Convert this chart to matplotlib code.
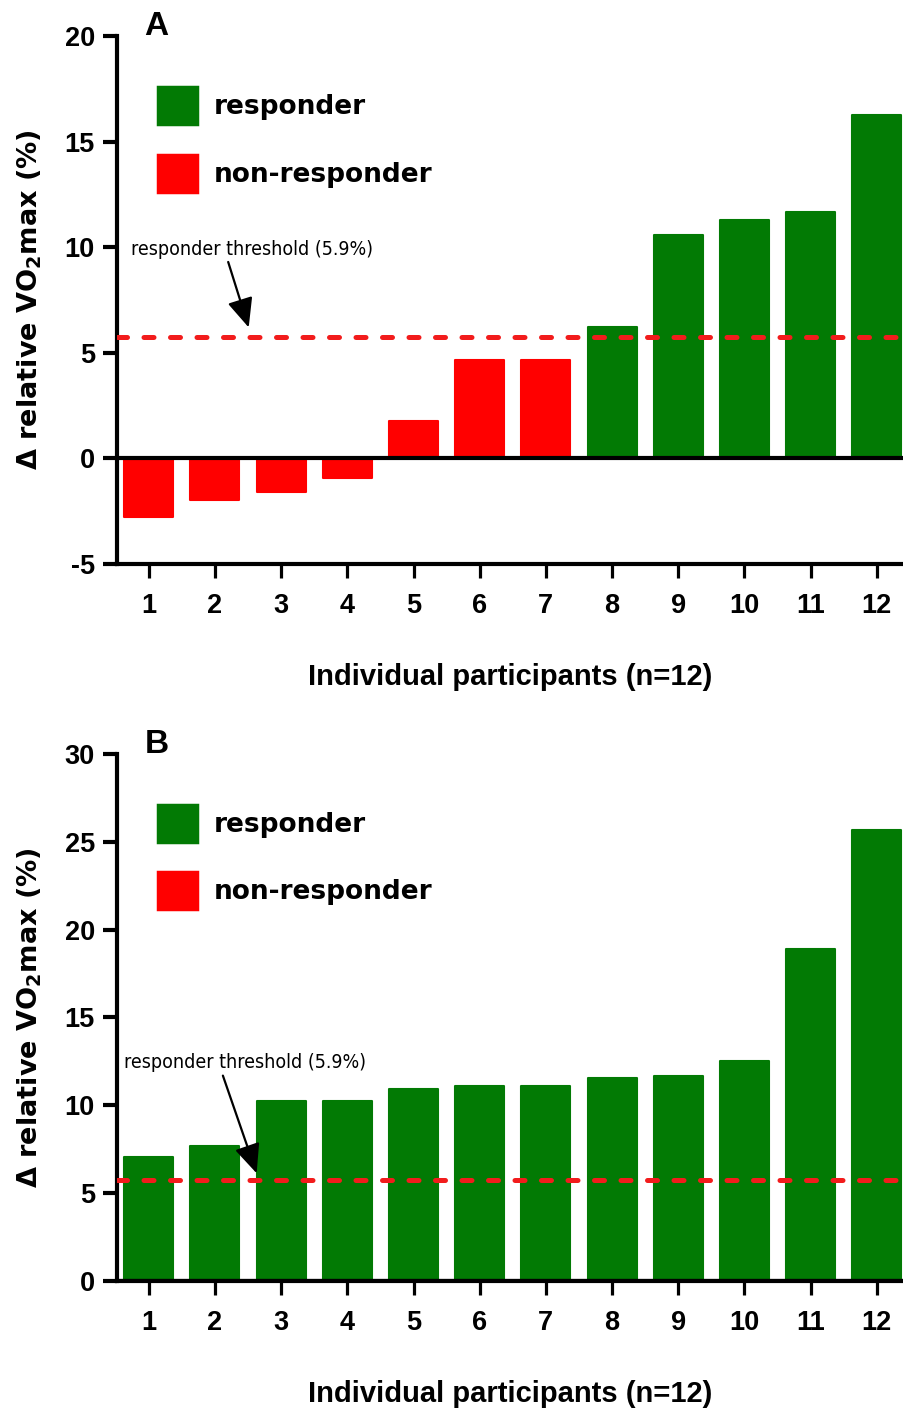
#!/usr/bin/env python3
"""
Δ relative VO2max per participant, panels A and B (responder / non-responder)
"""

import matplotlib
matplotlib.use("Agg")
import matplotlib.pyplot as plt
from matplotlib.patches import Patch

plt.rcParams["axes.unicode_minus"] = False

# --- data ---
participants = list(range(1, 13))
tick_labels = [str(p) for p in participants]

values_a = [-2.78, -1.97, -1.58, -0.95, 1.75, 4.66, 4.66, 6.2, 10.58, 11.29, 11.65, 16.26]
values_b = [7.05, 7.68, 10.27, 10.27, 10.93, 11.08, 11.08, 11.56, 11.69, 12.54, 18.88, 25.69]

threshold = 5.75          # dashed line as drawn
threshold_label = "responder threshold (5.9%)"
legend_labels = ["responder", "non-responder"]

yticks_a = [-5, 0, 5, 10, 15, 20]
yticks_b = [0, 5, 10, 15, 20, 25, 30]

GREEN = "#027a04"
RED = "#ff0000"
LINE_RED = "#f21c1c"

TICK_FONT = "Liberation Sans"
LABEL_FONT = "DejaVu Sans"


def draw_panel(ax, values, yticks, letter, note_xy, arrow_from, arrow_to):
    colors = [GREEN if v > threshold else RED for v in values]
    ax.bar(participants, values, width=0.74, color=colors, edgecolor=colors,
           linewidth=1.5, joinstyle="round", zorder=2)

    ax.axhline(0, color="black", lw=3, zorder=4)
    ax.axhline(threshold, color=LINE_RED, lw=3.6, zorder=5,
               linestyle=(0, (2.0, 3.3)), dash_capstyle="round")

    ax.set_xlim(0.52, 12.41)
    ax.set_ylim(yticks[0], yticks[-1])
    ax.set_yticks(yticks)
    ax.set_xticks(participants)
    ax.set_xticklabels(tick_labels)

    for side in ("top", "right"):
        ax.spines[side].set_visible(False)
    for side in ("left", "bottom"):
        ax.spines[side].set_linewidth(3)
    ax.tick_params(axis="y", direction="out", length=10, width=3, pad=6)
    ax.tick_params(axis="x", direction="out", length=10, width=2.3, pad=11)
    for lab in ax.get_xticklabels() + ax.get_yticklabels():
        lab.set_fontfamily(TICK_FONT)
        lab.set_fontweight("bold")
        lab.set_fontsize(19.5)

    ax.set_ylabel(r"Δ relative VO$_\mathbf{2}$max (%)", fontsize=19.5,
                  fontweight="bold", fontfamily=LABEL_FONT, va="center")
    ax.yaxis.set_label_coords(-0.1105, 0.5)
    ax.set_xlabel("Individual participants (n=12)", fontsize=21,
                  fontweight="bold", fontfamily=TICK_FONT, va="center")
    ax.xaxis.set_label_coords(0.5, -0.214)

    handles = [Patch(facecolor=GREEN, edgecolor=GREEN, linewidth=2.5, joinstyle="round"),
               Patch(facecolor=RED, edgecolor=RED, linewidth=2.5, joinstyle="round")]
    leg = ax.legend(handles, legend_labels, loc="upper left",
                    bbox_to_anchor=(0.052, 0.903), borderaxespad=0, borderpad=0,
                    frameon=False, handlelength=1.5, handleheight=1.78,
                    labelspacing=1.15, handletextpad=0.6,
                    prop={"family": LABEL_FONT, "weight": "bold", "size": 19})
    leg.set_zorder(6)

    ax.text(note_xy[0], note_xy[1], threshold_label, ha="center", va="center",
            fontsize=14, family="DejaVu Sans", stretch="condensed", zorder=6)
    ax.annotate("", xy=arrow_to, xytext=arrow_from,
                arrowprops=dict(arrowstyle="-|>,head_length=0.5,head_width=0.22",
                                color="black", lw=1.6, mutation_scale=36,
                                shrinkA=0, shrinkB=0),
                zorder=6)

    ax.text(0.035, 1.017, letter, transform=ax.transAxes, ha="left", va="center",
            fontsize=24, fontweight="bold", fontfamily=TICK_FONT)


def main():
    fig = plt.figure(figsize=(9.04, 14.1), dpi=100)
    ax_a = fig.add_axes([0.1294, 0.6, 0.8706, 0.3745])
    ax_b = fig.add_axes([0.1294, 0.0915, 0.8706, 0.3738])

    draw_panel(ax_a, values_a, yticks_a, "A",
               note_xy=(2.56, 9.9), arrow_from=(2.2, 9.3), arrow_to=(2.51, 6.2))
    draw_panel(ax_b, values_b, yticks_b, "B",
               note_xy=(2.46, 12.43), arrow_from=(2.12, 11.69), arrow_to=(2.63, 6.13))

    fig.savefig("out.png", dpi=100)


if __name__ == "__main__":
    main()
